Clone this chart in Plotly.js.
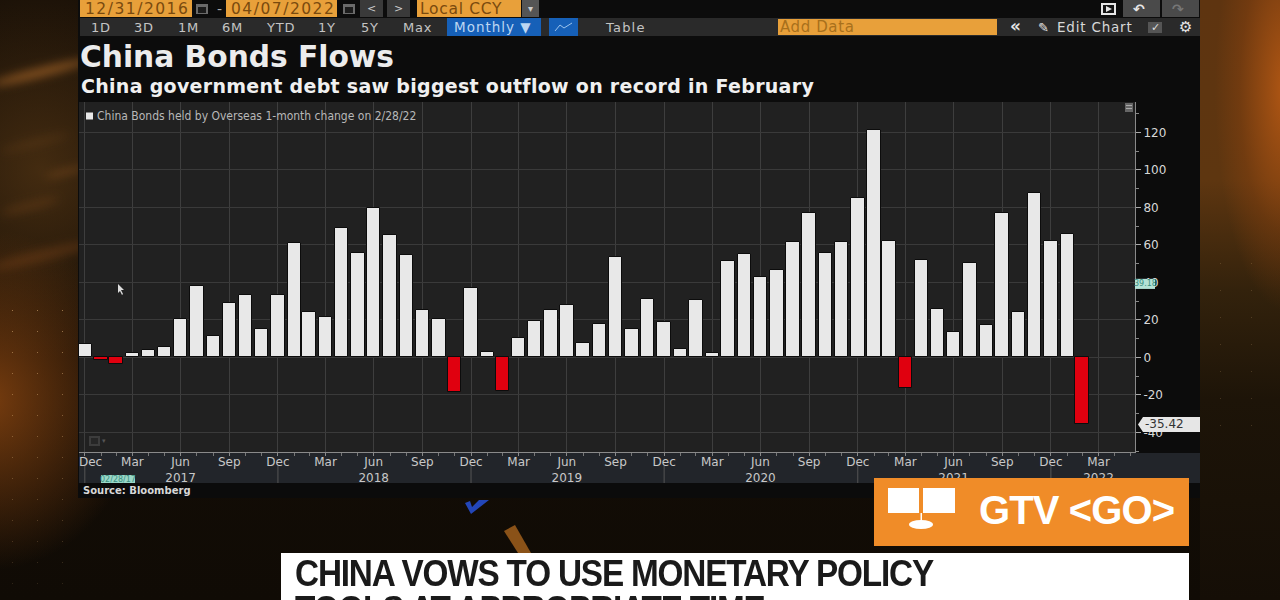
<!DOCTYPE html>
<html><head><meta charset="utf-8">
<script src="https://cdn.plot.ly/plotly-3.0.1.min.js"></script>
<style>
html,body{margin:0;padding:0;width:1280px;height:600px;overflow:hidden;background:#0c0805}
#bg{position:absolute;left:0;top:0;width:1280px;height:600px;overflow:hidden;background:
 radial-gradient(ellipse 70px 220px at 1285px 90px,rgba(185,90,20,.9),rgba(150,70,15,.35) 65%,rgba(0,0,0,0) 100%),
 linear-gradient(180deg,#5e3410 0,#5e3610 180px,#33220c 290px,#1d1408 400px,#150e06 600px) 1200px 0/80px 600px no-repeat,
 radial-gradient(ellipse 150px 170px at -10px 400px,rgba(135,68,16,.85),rgba(0,0,0,0) 100%),
 radial-gradient(ellipse 170px 190px at 40px 170px,rgba(75,48,18,.85),rgba(0,0,0,0) 100%),
 linear-gradient(180deg,#191007,#100b05);}
.streak{position:absolute;filter:blur(5px);border-radius:50%}
.dots{position:absolute;background-image:radial-gradient(circle 1px,rgba(235,190,130,.55),rgba(0,0,0,0));background-size:25px 21px}
#panel{position:absolute;left:78px;top:0;width:1122px;height:498px;background:#0c0c0c}
#chart{position:absolute;left:0;top:0;width:1280px;height:600px}
.headline{position:absolute;left:295px;font:bold 37px/37px "Liberation Sans",Arial,sans-serif;color:#1a1a1a;letter-spacing:-1.3px;white-space:nowrap;transform:scaleX(.9);transform-origin:0 0}
</style></head><body>
<div id="bg">
 <div class="streak" style="left:-10px;top:68px;width:100px;height:9px;background:rgba(190,115,45,.6);transform:rotate(-14deg)"></div>
 <div class="streak" style="left:0;top:140px;width:70px;height:6px;background:rgba(120,75,30,.35);transform:rotate(-14deg)"></div>
 <div class="streak" style="left:45px;top:170px;width:40px;height:4px;background:rgba(170,100,40,.5);transform:rotate(-14deg)"></div>
 <div class="streak" style="left:0;top:202px;width:60px;height:8px;background:rgba(130,75,30,.35);transform:rotate(-14deg)"></div>
 <div class="streak" style="left:-10px;top:250px;width:100px;height:12px;background:rgba(130,70,25,.4);transform:rotate(-14deg)"></div>
 <div class="dots" style="left:0;top:300px;width:78px;height:290px;-webkit-mask-image:linear-gradient(180deg,#000,rgba(0,0,0,.25))"></div>
 <div class="dots" style="left:1205px;top:250px;width:75px;height:200px;opacity:.35;background-size:31px 27px"></div>
</div>
<div id="panel"></div><div id="chart"></div>
<div class="headline" style="top:555px">CHINA VOWS TO USE MONETARY POLICY</div>
<div class="headline" style="top:591px">TOOLS AT APPROPRIATE TIME</div>
<script>
const seriesName = 'China Bonds held by Overseas 1-month change on 2/28/22';
const monthEnds = [
 '2016-12-31',
 '2017-01-31','2017-02-28','2017-03-31','2017-04-30','2017-05-31','2017-06-30','2017-07-31','2017-08-31','2017-09-30','2017-10-31','2017-11-30','2017-12-31',
 '2018-01-31','2018-02-28','2018-03-31','2018-04-30','2018-05-31','2018-06-30','2018-07-31','2018-08-31','2018-09-30','2018-10-31','2018-11-30','2018-12-31',
 '2019-01-31','2019-02-28','2019-03-31','2019-04-30','2019-05-31','2019-06-30','2019-07-31','2019-08-31','2019-09-30','2019-10-31','2019-11-30','2019-12-31',
 '2020-01-31','2020-02-29','2020-03-31','2020-04-30','2020-05-31','2020-06-30','2020-07-31','2020-08-31','2020-09-30','2020-10-31','2020-11-30','2020-12-31',
 '2021-01-31','2021-02-28','2021-03-31','2021-04-30','2021-05-31','2021-06-30','2021-07-31','2021-08-31','2021-09-30','2021-10-31','2021-11-30','2021-12-31',
 '2022-01-31','2022-02-28'];
const flows = [
 7.1,
 -1.5,-3.7,2.5,3.9,5.3,20.3,38,11.4,28.8,33.2,14.9,33.2,
 60.8,24.2,21.5,69.2,55.5,79.6,65.2,54.4,25,20.6,-18.7,36.8,
 2.8,-17.8,10.1,19.4,25.4,27.9,7.6,17.8,53.3,15.3,31.3,18.8,
 4.4,30.8,2.3,51.6,55.1,43,46.4,61.3,77.2,55.5,61.3,85.2,
 121.4,62,-16.4,51.7,25.6,13.7,50.1,17.4,77.2,24.4,87.6,62,
 66,-35.42];
const xTickDates = ['2016-12-31','2017-03-31','2017-06-30','2017-09-30','2017-12-31','2018-03-31','2018-06-30','2018-09-30','2018-12-31','2019-03-31','2019-06-30','2019-09-30','2019-12-31','2020-03-31','2020-06-30','2020-09-30','2020-12-31','2021-03-31','2021-06-30','2021-09-30','2021-12-31','2022-03-31'];
const xTickLabels = ['&nbsp;&nbsp;&nbsp;Dec','Mar','Jun<br>2017','Sep','Dec','Mar','Jun<br>2018','Sep','Dec','Mar','Jun<br>2019','Sep','Dec','Mar','Jun<br>2020','Sep','Dec','Mar','Jun<br>2021','Sep','Dec','Mar<br>2022'];
const yearEnds = ['2016-12-31','2017-12-31','2018-12-31','2019-12-31','2020-12-31','2021-12-31'];
const yTicks = [-40,-20,0,20,40,60,80,100,120];
const yTickLabels = ['-40','-20','0','20','40','60','80','100','120'];
const minorMonths = monthEnds.concat(['2022-03-31','2022-04-30','2022-05-31']);
const lastValue = -35.42, cursorValue = 39.18;
const colorUp = '#e8e8e8', colorDown = '#e0000f';

const L=79,R=1135,T=102,B=452;
const X=p=>(p-L)/(R-L), Y=p=>(B-p)/(B-T);
const shapes=[], annotations=[];
function rect(x0,y0,x1,y1,fill,layer){shapes.push({type:'rect',xref:'paper',yref:'paper',x0:X(x0),x1:X(x1),y0:Y(y0),y1:Y(y1),fillcolor:fill,line:{width:0},layer:layer||'above'});}
function poly(pts,fill,layer){const d=pts.map((q,i)=>(i?'L':'M')+X(q[0])+','+Y(q[1])).join(' ')+' Z';shapes.push({type:'path',xref:'paper',yref:'paper',path:d,fillcolor:fill,line:{width:0},layer:layer||'above'});}
function txt(x,y,s,size,color,opt){opt=opt||{};const sp=opt.sp?`<span style="letter-spacing:${opt.sp}px">${s}</span>`:s;
 annotations.push({xref:'paper',yref:'paper',x:X(x),y:Y(y),text:opt.bold?`<b>${sp}</b>`:sp,showarrow:false,xanchor:opt.a||'left',yanchor:'middle',align:opt.a||'left',
  font:{family:opt.f||'DejaVu Sans',size:size,color:color},borderpad:0,captureevents:false});}

// toolbar row 1
const amber='#e8a03a', amberText='#7a4a0e', btn='#3a3a3a';
rect(80,0,192,17,amber);txt(84,8.5,'12/31/2016',15.5,amberText,{sp:1.5});
rect(196,4,208,14,'#6a6a6a');rect(198,7,206,13,'#1c1c1c');
txt(219,9,'-',14,'#aaa',{a:'center'});
rect(226,0,337,17,amber);txt(230,8.5,'04/07/2022',15.5,amberText,{sp:1.5});
rect(343,4,355,14,'#6a6a6a');rect(345,7,353,13,'#1c1c1c');
rect(360,0,383,17,btn);txt(371.5,8.5,'&lt;',11,'#ccc',{a:'center'});
rect(387,0,410,17,btn);txt(398.5,8.5,'&gt;',11,'#ccc',{a:'center'});
rect(417,0,521,17,amber);txt(419,8.5,'Local CCY',15.5,amberText,{sp:.7});
rect(522,0,539,17,'#555');txt(530.5,9,'▾',10,'#ccc',{a:'center'});
rect(1123,0,1160,17,'#4a4a4a');rect(1162,0,1199,17,'#4a4a4a');
rect(1101,3,1116,15,'#e6e6e6');rect(1103,5,1114,13,'#141414');poly([[1106,6],[1106,12],[1112,9]],'#e6e6e6');
txt(1139,8.5,'↶',14,'#e6e6e6',{a:'center',bold:true});txt(1178,8.5,'↷',14,'#777',{a:'center',bold:true});
// toolbar row 2
rect(80,18,1200,36,'#2a2a2a');
[['1D',101],['3D',144],['1M',188],['6M',232],['YTD',280.5],['1Y',327],['5Y',370],['Max',417]].forEach(b=>txt(b[1],27,b[0],13,'#c4c4c4',{a:'center',sp:.8}));
rect(447,18,541,36,'#1660b8');txt(453,27,'Monthly ▼',13.5,'#bcd6f2',{sp:1.0});
rect(549,18,578,36,'#1660b8');
shapes.push({type:'path',xref:'paper',yref:'paper',path:`M${X(555)},${Y(31)} L${X(560)},${Y(25)} L${X(564)},${Y(28)} L${X(572)},${Y(23)}`,line:{color:'#9cc4ee',width:1},layer:'above'});
txt(625,27,'Table',13,'#c4c4c4',{a:'center',sp:1.2});
rect(778,19,997,35,amber);txt(779,27,'Add Data',15,'#a8701c',{sp:.6});
txt(1015,26.5,'«',17,'#e6e6e6',{a:'center',bold:true});
txt(1043,27,'✎',13,'#e6e6e6',{a:'center'});
txt(1095,27,'Edit Chart',13.5,'#d8d8d8',{a:'center',sp:.8});
rect(1148,22,1162,33,'#555');txt(1155,27.5,'✓',11,'#ddd',{a:'center'});
txt(1185,27,'⚙',15,'#e6e6e6',{a:'center'});
// headings
txt(80,85.5,'China government debt saw biggest outflow on record in February',19,'#f0f0f0',{bold:true,sp:.29});
// legend
rect(86,112.5,93,119.5,colorUp);
txt(96,116,seriesName,12,'#b8b8b8',{f:'DejaVu Sans Condensed'});
// small chart icons
rect(1125,103,1133,112,'#666');rect(1126,105,1132,106,'#aaa');rect(1126,108,1132,109,'#aaa');
rect(89,436,100,446,'#3c3c3c');rect(91,438,98,444,'#262626');txt(104,441,'▾',7,'#555',{a:'center'});
poly([[118,284],[118,293],[120,291],[122,295],[123,294],[121,290],[124,290]],'#dddddd');
// axis band and source band
rect(79,453,1200,483,'#22252a','below');
yearEnds.forEach(d=>shapes.push({type:'line',xref:'x',yref:'paper',x0:d,x1:d,y0:Y(465),y1:Y(483),line:{color:'#555',width:1},layer:'below'}));
rect(78,483,1200,498,'#0b0b0b');
txt(82,490,'Source: Bloomberg',10,'#d8d8d8',{bold:true});
// date tag
rect(101,475,135,483,'#9ad8c8');txt(118,479,'02/28/17',8,'#3c8f80',{a:'center'});
// cursor value tag
shapes.push({type:'rect',xref:'paper',yref:'y',x0:X(1135),x1:X(1155),y0:cursorValue+2.7,y1:cursorValue-2.7,fillcolor:'#b4e2d6',line:{width:0},layer:'above'});
annotations.push({xref:'paper',yref:'y',x:X(1145),y:cursorValue,text:String(cursorValue),showarrow:false,xanchor:'center',yanchor:'middle',font:{family:'DejaVu Sans',size:8,color:'#3c8f80'}});
// last value tag
poly([[1138,424.5],[1143,417],[1200,417],[1200,432],[1143,432]],'#e6e6e6');
annotations.push({xref:'paper',yref:'y',x:X(1143),y:lastValue,text:String(lastValue),showarrow:false,xanchor:'left',yanchor:'middle',font:{family:'DejaVu Sans',size:12,color:'#333'}});
// GTV box
rect(874,478,1189,546,'#f08c28');
rect(888,488,919,513,'#fff');rect(923,488,955,513,'#fff');rect(920.5,513,922,522,'#fff');
shapes.push({type:'circle',xref:'paper',yref:'paper',x0:X(909),x1:X(933),y0:Y(520),y1:Y(529),fillcolor:'#fff',line:{width:0},layer:'above'});
txt(978,510,'GTV &lt;GO&gt;',40,'#fff',{bold:true,f:'Liberation Sans',sp:-.9});
// lower-third
rect(281,553,1189,600,'#ffffff');
// background picks
poly([[465,503],[471,514],[489,500],[479,500],[472,507],[470,501]],'#2346b8','below');
poly([[504,531],[515,525],[531,553],[518,553]],'#8a5218','below');

const trace={type:'bar',name:seriesName,x:monthEnds,y:flows,width:25.5*86400000,
 marker:{color:flows.map(v=>v<0?colorDown:colorUp),line:{width:1,color:'#0c0c0c'}},hoverinfo:'x+y'};
const layout={width:1280,height:600,margin:{l:L,r:1280-R,t:T,b:600-B,pad:0},
 paper_bgcolor:'rgba(0,0,0,0)',plot_bgcolor:'#212121',showlegend:false,bargap:0,
 title:{text:'<b>China Bonds Flows</b>',x:X(80),xref:'paper',xanchor:'left',y:1-57/600,yanchor:'middle',font:{family:'DejaVu Sans',size:29.7,color:'#ececec'},pad:{l:0,t:0,b:0,r:0}},
 xaxis:{type:'date',range:['2016-12-20','2022-06-08'],tickmode:'array',tickvals:xTickDates,ticktext:xTickLabels,tickangle:0,
  showgrid:true,gridcolor:'#3e3e3e',gridwidth:1,showline:true,linecolor:'#8a8a8a',linewidth:1,ticks:'outside',ticklen:3,tickcolor:'#8a8a8a',ticklabelstandoff:-4,
  minor:{tickmode:'array',tickvals:minorMonths,ticks:'outside',ticklen:3,tickcolor:'#777',showgrid:false},
  tickfont:{family:'DejaVu Sans',size:12,color:'#c8c8c8'},zeroline:false,automargin:false},
 yaxis:{side:'right',range:[-50.5,136.2],tickmode:'array',tickvals:yTicks,ticktext:yTickLabels,
  showgrid:true,gridcolor:'#3a3a3a',gridwidth:1,showline:true,linecolor:'#8a8a8a',linewidth:1,ticks:'outside',ticklen:5,tickcolor:'#aaa',
  minor:{dtick:10,ticks:'outside',ticklen:3,tickcolor:'#888',showgrid:false},zeroline:false,
  tickfont:{family:'DejaVu Sans',size:12,color:'#d8d8d8'},automargin:false},
 shapes,annotations};
Plotly.newPlot('chart',[trace],layout,{displayModeBar:false,responsive:false});
</script></body></html>
